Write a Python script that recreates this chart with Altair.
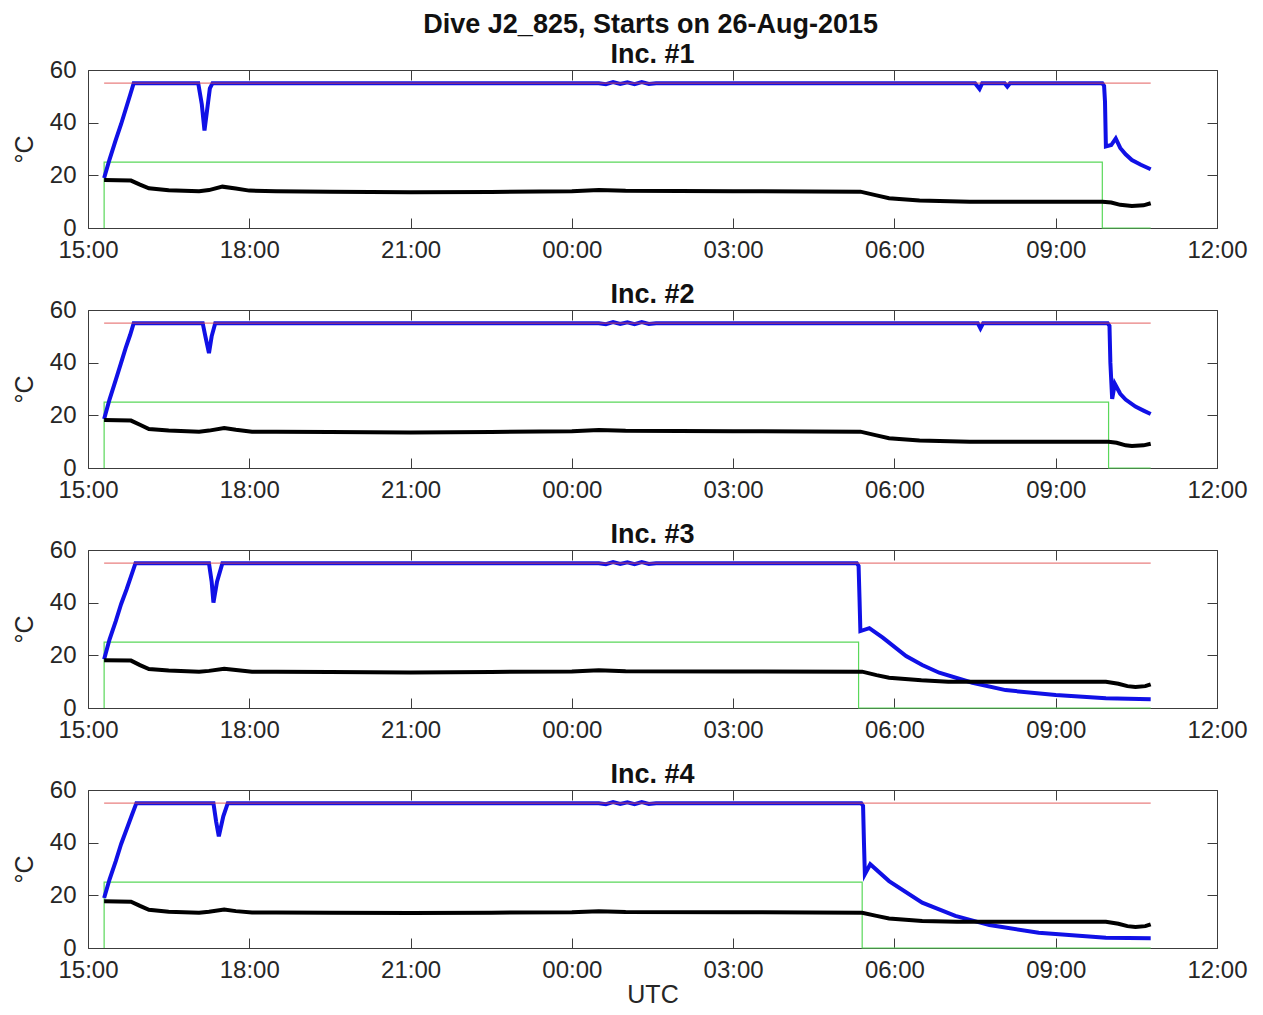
import altair as alt
import pandas as pd

# ---------------- data ----------------
tick_times = ["15:00", "18:00", "21:00", "00:00", "03:00", "06:00", "09:00", "12:00"]
y_ticks = [0, 20, 40, 60]
inc_titles = ["Inc. #1", "Inc. #2", "Inc. #3", "Inc. #4"]

# Inc. #1
blue_t1 = ["15:18", "15:24", "15:31", "15:37", "15:42", "15:47", "15:51", "16:30", "17:03", "17:07",
           "17:10", "17:13", "17:16", "17:19", "19:00", "21:00", "23:00", "00:30", "00:38", "00:46",
           "00:54", "01:02", "01:10", "01:18", "01:26", "01:34", "03:00", "05:00", "07:30", "07:35",
           "07:38", "08:03", "08:06", "08:09", "09:52", "09:54", "09:55", "09:56", "10:02", "10:07",
           "10:12", "10:18", "10:25", "10:35", "10:46"]
blue_v1 = [19, 26, 33.5, 39.5, 45, 50.5, 55, 55, 55, 47,
           37, 45, 53, 55, 55, 55, 55, 55, 54.6, 55.4,
           54.7, 55.3, 54.6, 55.4, 54.7, 55, 55, 55, 55, 52.8,
           55, 55, 53.7, 55, 55, 54, 48, 31, 31.5, 34,
           30.4, 28, 25.8, 24, 22.3]
black_t1 = ["15:18", "15:48", "15:58", "16:08", "16:30", "17:04", "17:15", "17:30", "17:45", "18:00",
            "18:30", "19:30", "21:00", "22:30", "00:00", "00:30", "01:00", "03:00", "05:22", "05:40",
            "05:54", "06:28", "07:24", "09:52", "10:02", "10:12", "10:25", "10:38", "10:46"]
black_v1 = [18.2, 18.0, 16.5, 15.1, 14.3, 14.0, 14.4, 15.7, 15.0, 14.2,
            14.0, 13.8, 13.6, 13.7, 14.0, 14.4, 14.1, 14.0, 13.8, 12.4,
            11.3, 10.4, 10.0, 10.0, 9.7, 8.8, 8.4, 8.6, 9.4]
green_t1 = ["15:18", "15:18", "09:52", "09:52", "10:46"]
green_v1 = [0, 25, 25, 0, 0]

# Inc. #2
blue_t2 = ["15:18", "15:24", "15:31", "15:37", "15:42", "15:47", "15:51", "16:30", "17:08", "17:11",
           "17:15", "17:18", "17:22", "19:00", "21:00", "23:00", "00:30", "00:38", "00:46", "00:54",
           "01:02", "01:10", "01:18", "01:26", "01:34", "03:00", "05:00", "07:33", "07:36", "07:39",
           "09:58", "10:00", "10:01", "10:03", "10:06", "10:12", "10:18", "10:29", "10:38", "10:46"]
blue_v2 = [18.6, 26, 33.5, 40, 45.5, 50.5, 55, 55, 55, 50,
           43.6, 50, 55, 55, 55, 55, 55, 54.6, 55.4, 54.7,
           55.3, 54.6, 55.4, 54.7, 55, 55, 55, 55, 53, 55,
           55, 54, 40, 26.2, 32, 28.2, 26, 23.3, 21.8, 20.5]
black_t2 = ["15:18", "15:48", "15:58", "16:08", "16:30", "17:04", "17:15", "17:32", "17:45", "18:03",
            "18:30", "19:30", "21:00", "22:30", "00:00", "00:30", "01:00", "03:00", "05:22", "05:40",
            "05:54", "06:28", "07:24", "09:59", "10:08", "10:18", "10:25", "10:38", "10:46"]
black_v2 = [18.2, 18.0, 16.4, 14.8, 14.2, 13.8, 14.2, 15.2, 14.5, 13.8,
            13.8, 13.7, 13.5, 13.7, 14.0, 14.4, 14.1, 14.0, 13.8, 12.4,
            11.3, 10.4, 10.0, 10.0, 9.6, 8.6, 8.4, 8.6, 9.2]
green_t2 = ["15:18", "15:18", "09:59", "09:59", "10:46"]
green_v2 = [0, 25, 25, 0, 0]

# Inc. #3
blue_t3 = ["15:18", "15:24", "15:31", "15:37", "15:43", "15:48", "15:53", "16:30", "17:15", "17:18",
           "17:20", "17:24", "17:30", "19:00", "21:00", "23:00", "00:30", "00:38", "00:46", "00:54",
           "01:02", "01:10", "01:18", "01:26", "01:34", "03:00", "05:18", "05:20", "05:21", "05:22",
           "05:32", "05:47", "06:13", "06:31", "06:50", "07:27", "08:04", "09:00", "09:56", "10:46"]
blue_v3 = [18.5, 26, 33, 39.5, 45, 50, 55, 55, 55, 48,
           40, 48, 55, 55, 55, 55, 55, 54.6, 55.4, 54.7,
           55.3, 54.6, 55.4, 54.7, 55, 55, 55, 54, 42, 29.2,
           30.3, 26.7, 19.7, 16.3, 13.4, 9.6, 6.8, 4.9, 3.7, 3.3]
black_t3 = ["15:18", "15:48", "15:58", "16:08", "16:30", "17:04", "17:15", "17:32", "17:45", "18:03",
            "18:30", "19:30", "21:00", "22:30", "00:00", "00:30", "01:00", "03:00", "05:24", "05:40",
            "05:54", "06:30", "07:00", "09:56", "10:10", "10:20", "10:29", "10:40", "10:46"]
black_v3 = [18.1, 18.0, 16.3, 14.8, 14.2, 13.8, 14.1, 14.9, 14.4, 13.8,
            13.8, 13.7, 13.5, 13.7, 13.9, 14.3, 14.0, 13.9, 13.8, 12.5,
            11.5, 10.5, 10.0, 10.0, 9.2, 8.3, 8.0, 8.3, 9.0]
green_t3 = ["15:18", "15:18", "05:20", "05:20", "10:46"]
green_v3 = [0, 25, 25, 0, 0]

# Inc. #4
blue_t4 = ["15:18", "15:24", "15:31", "15:37", "15:43", "15:49", "15:54", "16:30", "17:20", "17:23",
           "17:26", "17:31", "17:36", "19:00", "21:00", "23:00", "00:30", "00:38", "00:46", "00:54",
           "01:02", "01:10", "01:18", "01:26", "01:34", "03:00", "05:23", "05:25", "05:26", "05:27",
           "05:33", "05:54", "06:31", "07:08", "07:46", "08:41", "09:56", "10:46"]
blue_v4 = [19, 26, 33, 39.5, 45, 50.5, 55, 55, 55, 48,
           42.4, 50, 55, 55, 55, 55, 55, 54.6, 55.4, 54.7,
           55.3, 54.6, 55.4, 54.7, 55, 55, 55, 54, 40, 28,
           31.8, 25.4, 17.2, 12.2, 8.7, 5.8, 3.9, 3.7]
black_t4 = ["15:18", "15:48", "15:58", "16:08", "16:30", "17:04", "17:15", "17:32", "17:45", "18:03",
            "18:30", "19:30", "21:00", "22:30", "00:00", "00:30", "01:00", "03:00", "05:24", "05:40",
            "05:54", "06:31", "07:10", "09:56", "10:10", "10:20", "10:29", "10:40", "10:46"]
black_v4 = [17.8, 17.6, 16.0, 14.5, 13.8, 13.4, 13.8, 14.6, 14.0, 13.5,
            13.5, 13.4, 13.3, 13.4, 13.6, 14.0, 13.7, 13.6, 13.4, 12.2,
            11.2, 10.3, 10.0, 10.0, 9.2, 8.3, 8.0, 8.3, 9.0]
green_t4 = ["15:18", "15:18", "05:24", "05:24", "10:46"]
green_v4 = [0, 25, 25, 0, 0]

red_t = ["15:18", "10:46"]
red_v = [55, 55]

# ---------------- helpers ----------------
FONT = "Liberation Sans"
TXT = "#262626"
FRAME = "#3c3c3c"


def iso(hm):
    h = int(hm[:2])
    day = "2015-08-26" if h >= 15 else "2015-08-27"
    return f"{day}T{hm}:00Z"


def dt(hm):
    h, m = int(hm[:2]), int(hm[3:])
    d = 26 if h >= 15 else 27
    return alt.DateTime(year=2015, month=8, date=d, hours=h, minutes=m, utc=True)


def frame(ts, vs):
    return pd.DataFrame({"t": [iso(x) for x in ts], "v": vs, "i": list(range(len(vs)))})


x_scale = alt.Scale(type="utc", domain=[dt("15:00"), dt("12:00")], nice=False)
y_scale = alt.Scale(domain=[0, 60], nice=False, zero=False)
x_vals = [dt(x) for x in tick_times]

TICK = 10


def panel(title, bt, bv, kt, kv, gt, gv, last):
    ax_bottom = alt.Axis(orient="bottom", values=x_vals, format="%H:%M", offset=-TICK, tickSize=TICK,
                         tickColor=FRAME, domain=False, grid=False, labelPadding=10, labelFontSize=24,
                         labelFont=FONT, labelColor=TXT, labelOverlap=False, labelFlush=False,
                         title="UTC" if last else None, titleFont=FONT, titleFontSize=25,
                         titleFontWeight="normal", titleColor=TXT, titlePadding=0)
    ax_left = alt.Axis(orient="left", values=y_ticks, offset=-TICK, tickSize=TICK, tickColor=FRAME,
                       domain=False, grid=False, labelPadding=12, labelFontSize=24, labelFont=FONT,
                       labelColor=TXT, title="°C", titleFont=FONT, titleFontSize=25,
                       titleFontWeight="normal", titleColor=TXT, titlePadding=12)
    ax_top = alt.Axis(orient="top", values=x_vals, offset=-TICK, tickSize=TICK, tickColor=FRAME,
                      domain=False, grid=False, labels=False, title=None)
    ax_right = alt.Axis(orient="right", values=y_ticks, offset=-TICK, tickSize=TICK, tickColor=FRAME,
                        domain=False, grid=False, labels=False, title=None)

    green = alt.Chart(frame(gt, gv)).mark_line(color="#5ad85a", strokeWidth=1.2).encode(
        x=alt.X("t:T", scale=x_scale, axis=ax_bottom),
        y=alt.Y("v:Q", scale=y_scale, axis=ax_left),
        order="i:Q")
    blue = alt.Chart(frame(bt, bv)).mark_line(color="#1010e6", strokeWidth=4).encode(
        x=alt.X("t:T", scale=x_scale, axis=ax_top),
        y=alt.Y("v:Q", scale=y_scale, axis=ax_right),
        order="i:Q")
    black = alt.Chart(frame(kt, kv)).mark_line(color="#000000", strokeWidth=4).encode(
        x=alt.X("t:T", scale=x_scale, axis=None),
        y=alt.Y("v:Q", scale=y_scale, axis=None),
        order="i:Q")
    red = alt.Chart(frame(red_t, red_v)).mark_line(color="#e04848", strokeWidth=1.2, opacity=0.7).encode(
        x=alt.X("t:T", scale=x_scale, axis=None),
        y=alt.Y("v:Q", scale=y_scale, axis=None),
        order="i:Q")
    return alt.layer(green, blue, black, red).resolve_axis(x="independent", y="independent").properties(
        width=1129, height=158,
        title=alt.Title(title, font=FONT, fontSize=27, fontWeight="bold", color="#111111",
                        offset=-11, anchor="middle", frame="group"))


panels = [
    panel(inc_titles[0], blue_t1, blue_v1, black_t1, black_v1, green_t1, green_v1, False),
    panel(inc_titles[1], blue_t2, blue_v2, black_t2, black_v2, green_t2, green_v2, False),
    panel(inc_titles[2], blue_t3, blue_v3, black_t3, black_v3, green_t3, green_v3, False),
    panel(inc_titles[3], blue_t4, blue_v4, black_t4, black_v4, green_t4, green_v4, True),
]

chart = alt.vconcat(*panels, spacing=17).properties(
    title=alt.Title("Dive J2_825, Starts on 26-Aug-2015", font=FONT, fontSize=27, fontWeight="bold",
                    color="#111111", offset=2, anchor="middle", dx=21),
    padding={"left": 3, "top": 2, "right": 5, "bottom": 0},
).configure_view(stroke=FRAME, strokeWidth=1, fill="white")

chart.save("out.html", embed_options={"renderer": "svg", "actions": False})
